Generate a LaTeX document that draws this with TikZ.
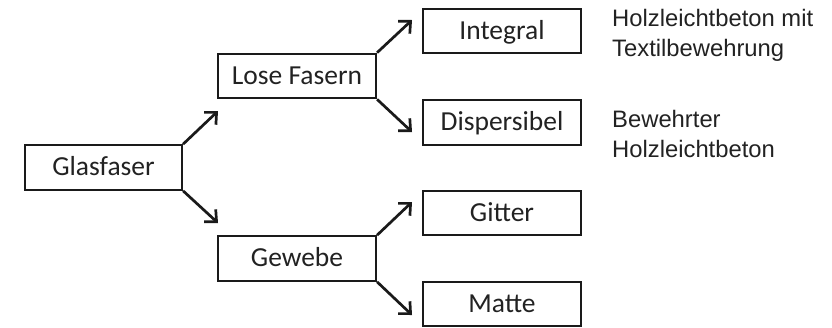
\documentclass[tikz,border=0pt]{standalone}
\usepackage{fontspec}
\newfontfamily\boxfont{Carlito}
\newfontfamily\notefont{Liberation Sans}
\usetikzlibrary{arrows.meta}
\definecolor{ink}{HTML}{1A1A1A}
\definecolor{notecol}{HTML}{222222}
\begin{document}
\begin{tikzpicture}[x=1pt,y=-1pt,
  boxnode/.style={draw=ink, line width=2.2pt, minimum width=158pt, minimum height=44.5pt,
    inner sep=0pt, text height=19pt, text depth=2.4pt, text=notecol,
    font=\boxfont\fontsize{27.5}{30}\selectfont},
  notenode/.style={anchor=north west, inner sep=0pt, align=left, text=notecol,
    font=\notefont\fontsize{23.8}{30}\selectfont},
  branch/.style={draw=ink, line width=2.7pt,
    -{Straight Barb[length=9pt,width=17pt,line width=2.7pt]}}]
\useasboundingbox (0,0) rectangle (832,327);

\node[boxnode, minimum width=157pt] (gl) at (103.5,167.5) {Glasfaser};
\node[boxnode] (lf) at (297,76) {Lose Fasern};
\node[boxnode] (gw) at (297,258.5) {Gewebe};
\node[boxnode] (in) at (502,31) {Integral};
\node[boxnode] (di) at (502,122.5) {Dispersibel};
\node[boxnode] (gi) at (502,213) {Gitter};
\node[boxnode] (ma) at (502,304) {Matte};

\node[notenode] (n1) at (612,9.5) {Holzleichtbeton mit\\Textilbewehrung};
\node[notenode] (n2) at (612,110.5) {Bewehrter\\Holzleichtbeton};

\coordinate (t1) at (218,111);
\coordinate (t2) at (218,223);
\coordinate (t3) at (412,20);
\coordinate (t4) at (412,132);
\coordinate (t5) at (412,202);
\coordinate (t6) at (412,315);

\draw[branch] (gl.north east) -- (t1);
\draw[branch] (gl.south east) -- (t2);
\draw[branch] (lf.north east) -- (t3);
\draw[branch] (lf.south east) -- (t4);
\draw[branch] (gw.north east) -- (t5);
\draw[branch] (gw.south east) -- (t6);
\end{tikzpicture}
\end{document}
